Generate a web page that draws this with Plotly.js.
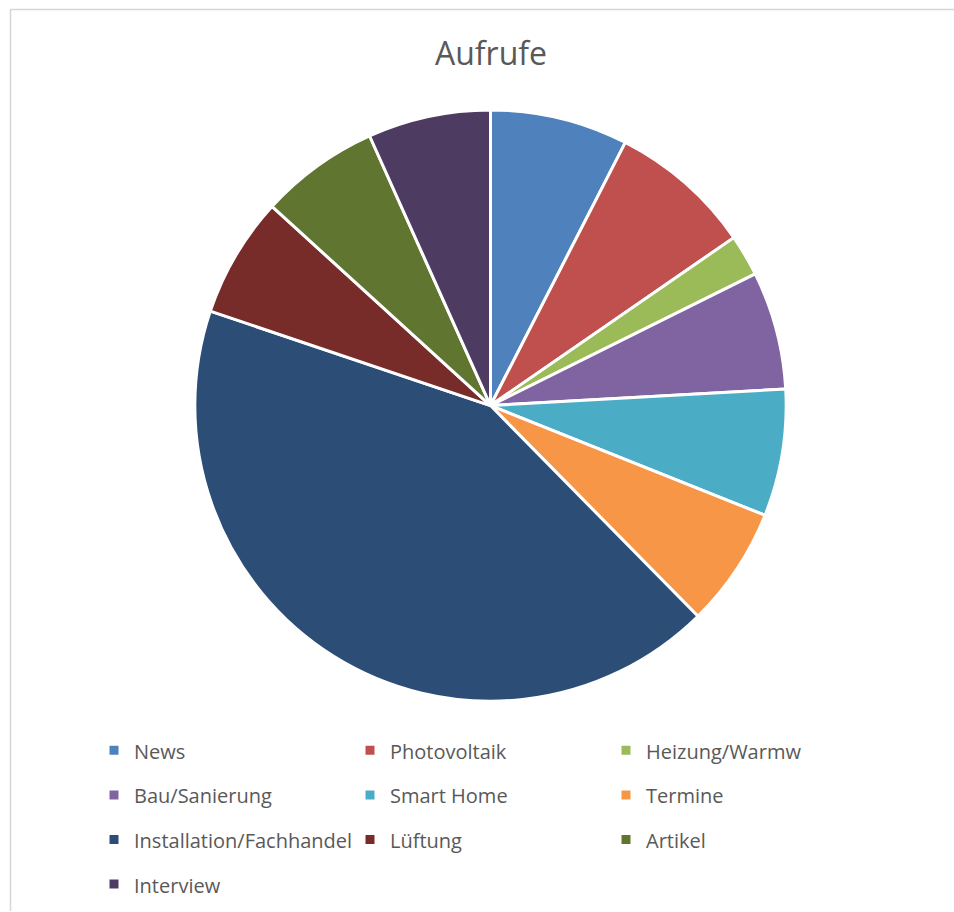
<!DOCTYPE html>
<html>
<head>
<meta charset="utf-8">
<script src="https://cdn.plot.ly/plotly-3.0.1.min.js"></script>
<style>html,body{margin:0;padding:0;background:#fff;}#chart{width:954px;height:912px;}</style>
</head>
<body>
<div id="chart"></div>
<script>
const categories = ["News", "Photovoltaik", "Heizung/Warmw", "Bau/Sanierung", "Smart Home", "Termine", "Installation/Fachhandel", "Lüftung", "Artikel", "Interview"];
const aufrufe = [754, 785, 227, 645, 695, 657, 4256, 659, 653, 671];
const colors = ["#4F81BD", "#C0504D", "#9BBB59", "#8064A2", "#4BACC6", "#F79646", "#2C4D75", "#772C2A", "#5F7530", "#4D3B62"];

const legendLabels = categories.map(c => '<span style="font-size:20px;baseline-shift:4px">' + c + '</span>');

const W = 954, H = 912;
const cx = 490.5, cy = 406, r = 296;

const trace = {
  type: 'pie',
  labels: legendLabels,
  values: aufrufe,
  sort: false,
  direction: 'clockwise',
  rotation: 0,
  textinfo: 'none',
  hoverinfo: 'label+value+percent',
  marker: { colors: colors, line: { color: '#ffffff', width: 3 } },
  domain: { x: [(cx - r) / W, (cx + r) / W], y: [1 - (cy + r) / H, 1 - (cy - r) / H] }
};

const layout = {
  width: W, height: H,
  margin: { l: 0, r: 0, t: 0, b: 0 },
  paper_bgcolor: '#ffffff',
  font: { family: '"Open Sans", sans-serif', color: '#595959' },
  title: { text: 'Aufrufe', font: { family: '"Open Sans", sans-serif', size: 32, color: '#595959' }, x: 491 / W, xanchor: 'center', y: 1 - 54 / H, yanchor: 'middle', yref: 'container' },
  showlegend: true,
  legend: {
    orientation: 'h',
    x: 94 / W, xanchor: 'left',
    y: 1 - 724 / H, yanchor: 'top',
    font: { size: 32, color: '#595959' },
    entrywidth: 211, entrywidthmode: 'pixels',
    bgcolor: 'rgba(0,0,0,0)', borderwidth: 0
  },
  shapes: [
    { type: 'line', xref: 'paper', yref: 'paper', x0: 10.5 / W, x1: 1, y0: 1 - 9.5 / H, y1: 1 - 9.5 / H, line: { color: '#d6d6d6', width: 1.5 } },
    { type: 'line', xref: 'paper', yref: 'paper', x0: 10.5 / W, x1: 10.5 / W, y0: 0, y1: 1 - 9.5 / H, line: { color: '#d6d6d6', width: 1.5 } }
  ]
};

Plotly.newPlot('chart', [trace], layout, { displayModeBar: false, staticPlot: true });
</script>
</body>
</html>
